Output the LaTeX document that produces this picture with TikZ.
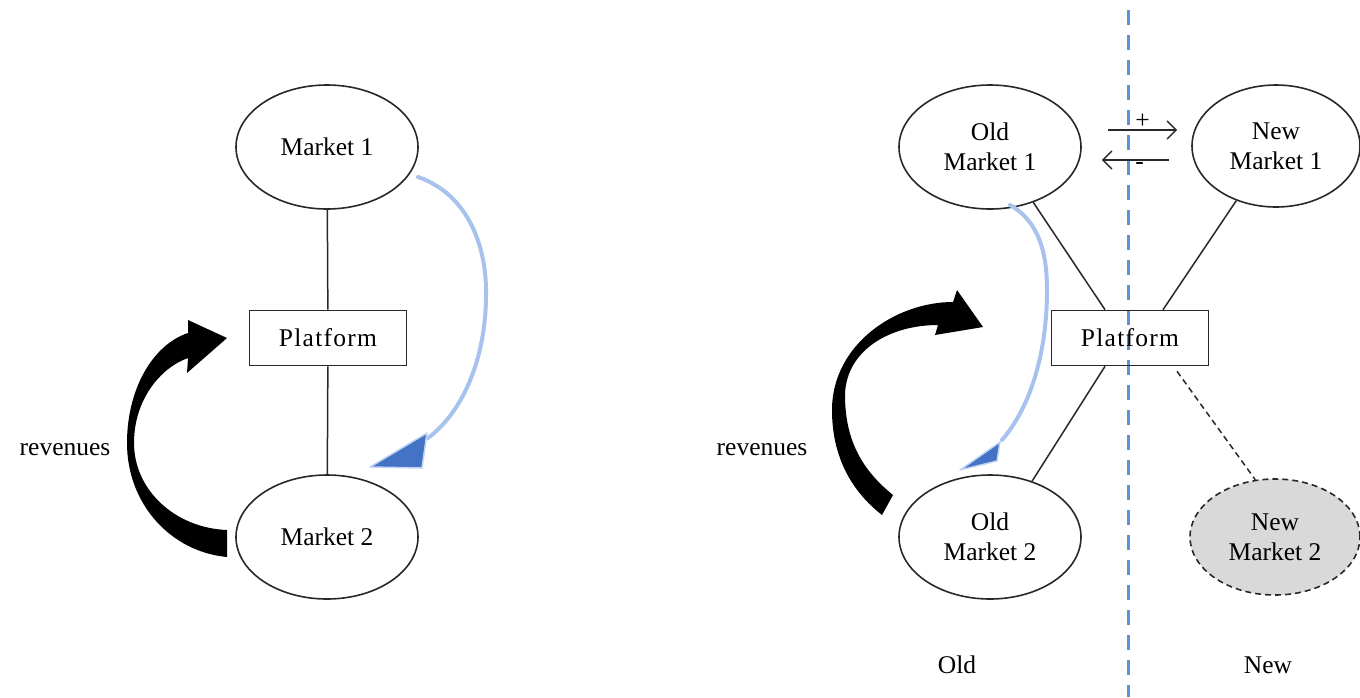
\documentclass[tikz,border=0pt]{standalone}
\usepackage{fontspec}
\setmainfont{Liberation Serif}
\usetikzlibrary{shapes.geometric,arrows.meta,calc}
\definecolor{lblue}{RGB}{168,194,238}
\definecolor{dblue}{RGB}{68,114,196}
\definecolor{vblue}{RGB}{91,148,215}
\definecolor{nfill}{RGB}{217,217,217}
\definecolor{ink}{RGB}{40,40,40}
\begin{document}
\begin{tikzpicture}[x=1pt,y=-1pt,
  txt/.style={font=\fontsize{25.5}{30}\selectfont, text=black, align=center},
  mkt/.style={txt, ellipse, draw=ink, line width=1.6pt, minimum width=182pt, minimum height=124pt, inner sep=0pt},
  newmkt/.style={mkt, minimum width=170pt, minimum height=116pt, fill=nfill, dash pattern=on 6pt off 4pt},
  plat/.style={txt, rectangle, draw=ink, line width=1.6pt, minimum width=157pt, minimum height=55pt, inner sep=0pt},
  link/.style={draw=ink, line width=1.5pt},
  dlink/.style={link, dash pattern=on 6pt off 4pt},
  flow/.style={draw=lblue, line width=4pt, line cap=round},
  flowhead/.style={fill=dblue, draw=lblue!70, line width=1.5pt, line join=round},
  effect/.style={draw=ink, line width=1.5pt, -{Straight Barb[length=9pt,width=18pt,line width=1.5pt]}},
  rev/.style={fill=black}
]
\useasboundingbox (0,0) rectangle (1360,697);

% ---------- left ----------
\node[mkt] (m1) at (327,147) {Market 1};
\node[plat] (p) at (328,338) {\addfontfeature{LetterSpace=5}Platform};
\node[mkt] (m2) at (327,537) {Market 2};
\draw[link] (m1) -- (p);
\draw[link] (p) -- (m2);
\node[txt] (rev1) at (65,450) {revenues};

\draw[flow] ($(m1.center)+(91,30)$) .. controls (470,195) and (487,250) .. (486,295) .. controls (486,355) and (465,410) .. (428,438);
\filldraw[flowhead] (370,467) -- (427,433) -- (422,468) -- cycle;

\fill[rev] (227,530) -- (227,557) .. controls (172,552) and (127,505) .. (127,443) .. controls (127,390) and (152,345) .. (188,333) -- (188,320) -- (227,338) -- (187,373) -- (188,358) .. controls (160,368) and (134,400) .. (134,443) .. controls (134,490) and (175,528) .. (227,530) -- cycle;

% ---------- right ----------
\draw[vblue, line width=3pt, dash pattern=on 15pt off 10pt, dash phase=-10pt] (1128,0) -- (1128,697);

\node[mkt] (om1) at (990,147) {Old\\Market 1};
\node[mkt, minimum width=168pt, minimum height=122pt] (nm1) at (1276,146) {New\\Market 1};
\node[plat] (p2) at (1130,338) {\addfontfeature{LetterSpace=5}Platform};
\node[mkt] (om2) at (990,537) {Old\\Market 2};
\node[newmkt] (nm2) at (1275,537) {New\\Market 2};

\draw[link] (om1.-52) -- ([xshift=-25pt]p2.north);
\draw[link] (nm1.-126) -- ([xshift=33pt]p2.north);
\draw[link] ([xshift=-25pt]p2.south) -- (om2.53);
\draw[dlink] ([xshift=47pt,yshift=-5pt]p2.south) -- (nm2.109);

\draw[effect] ([xshift=26pt,yshift=17pt]om1.east) -- node[txt, above, inner sep=1pt] {+} ([xshift=-14pt,yshift=16pt]nm1.west);
\draw[effect] ([xshift=-22pt,yshift=-14pt]nm1.west) -- node[txt, below, inner sep=2pt, xshift=4pt] {-} ([xshift=20pt,yshift=-13pt]om1.east);

\node[txt] (rev2) at (762,450) {revenues};
\node[txt] (old) at (957,665) {Old};
\node[txt] (new) at (1268,665) {New};

\draw[flow] ($(om1.center)+(20,58)$) .. controls (1040,222) and (1047,255) .. (1047,290) .. controls (1047,350) and (1032,405) .. (1002,440);
\filldraw[flowhead] (960,470) -- (1000,442) -- (997,461) -- cycle;

\fill[rev] (953,302) .. controls (895,302) and (832,345) .. (832,410) .. controls (832,455) and (850,490) .. (882,515) -- (893,495) .. controls (862,470) and (845,440) .. (845,395) .. controls (846,350) and (890,325) .. (938,325) -- (935,335) -- (983,327) -- (957,290) -- cycle;
\end{tikzpicture}
\end{document}
